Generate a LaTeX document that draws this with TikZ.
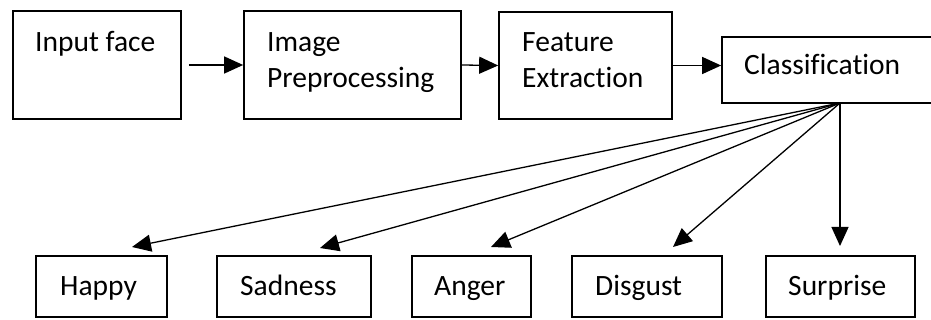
\documentclass[tikz,border=0pt]{standalone}
\usepackage{fontspec}
\setmainfont[Ligatures=NoCommon]{Carlito}
\usetikzlibrary{arrows.meta}
\tikzset{
  box/.style={draw=black, line width=1.7pt, inner sep=0pt, rectangle},
  lbl/.style={anchor=base west, inner sep=0pt, font=\fontsize{29.5}{36}\selectfont, text=black},
  arr/.style={line width=1.3pt, -{Triangle[length=19pt,width=17pt]}},
}
\begin{document}
\begin{tikzpicture}[x=1pt,y=-1pt]
\clip (0,0) rectangle (931,320);
\fill[white] (0,0) rectangle (931,320);
% top row boxes
\node[box, minimum width=168pt, minimum height=108pt] (in) at (97,65) {};
\node[box, minimum width=217pt, minimum height=108pt] (pre) at (352.5,65) {};
\node[box, minimum width=173pt, minimum height=107pt] (feat) at (585.5,65.5) {};
\node[box, minimum width=223pt, minimum height=66pt] (cls) at (833.5,70) {};
% bottom row boxes
\node[box, minimum width=131pt, minimum height=61pt] (happy) at (101.5,286.5) {};
\node[box, minimum width=154pt, minimum height=61pt] (sad) at (294,286.5) {};
\node[box, minimum width=119pt, minimum height=61pt] (anger) at (471.5,286.5) {};
\node[box, minimum width=150pt, minimum height=61pt] (disg) at (647,286.5) {};
\node[box, minimum width=149pt, minimum height=61pt] (surp) at (840.5,286.5) {};
% texts
\node[lbl] (tin) at (35,52) {Input face};
\node[lbl] (tpre1) at (267,52) {Image};
\node[lbl] (tpre2) at (267,88) {Preprocessing};
\node[lbl] (tfeat1) at (522,52) {Feature};
\node[lbl] (tfeat2) at (522,88) {Extraction};
\node[lbl] (tcls) at (744,75) {Classification};
\node[lbl] (thappy) at (60,295) {Happy};
\node[lbl] (tsad) at (240,295) {Sadness};
\node[lbl] (tanger) at (434,295) {Anger};
\node[lbl] (tdisg) at (595,295) {Disgust};
\node[lbl] (tsurp) at (788,295) {Surprise};
% top arrows
\draw[arr] ([xshift=7pt]in.east) -- (pre.west);
\draw[arr] (pre.east) -- (feat.west);
\draw[arr] (feat.east) -- (feat.east -| cls.west);
% fan
\coordinate (fan) at (840,103);
\coordinate (ehappy) at (132,247);
\coordinate (esad) at (320,248);
\coordinate (eanger) at (491,247);
\coordinate (edisg) at (673,247);
\coordinate (esurp) at (840,246);
\draw[arr] (fan) -- (ehappy);
\draw[arr] (fan) -- (esad);
\draw[arr] (fan) -- (eanger);
\draw[arr] (fan) -- (edisg);
\draw[arr] (fan) -- (esurp);
\end{tikzpicture}
\end{document}
